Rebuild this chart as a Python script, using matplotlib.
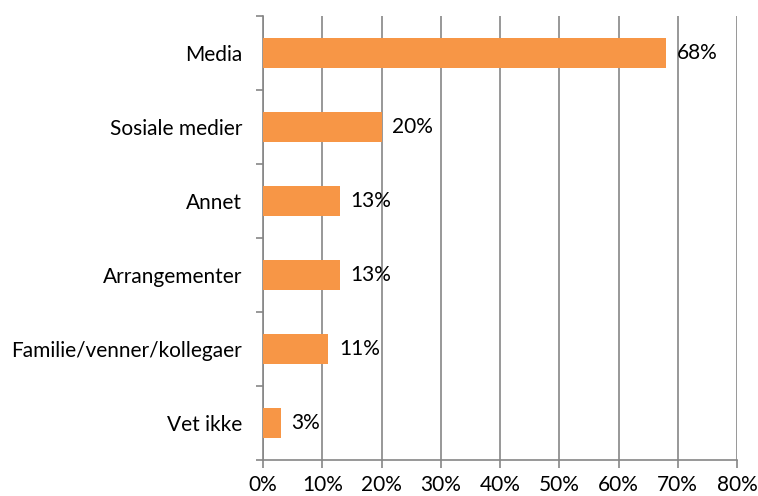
import matplotlib
matplotlib.use('Agg')
import matplotlib.pyplot as plt
from matplotlib.ticker import FuncFormatter, FixedLocator

# categories from top to bottom, values in percent
categories = ["Media", "Sosiale medier", "Annet", "Arrangementer",
              "Familie/venner/kollegaer", "Vet ikke"]
values = [68, 20, 13, 13, 11, 3]

bar_color = "#F79646"
grid_color = "#868686"

plt.rcParams['font.family'] = ['Lato', 'DejaVu Sans']
fs = 15

fig = plt.figure(figsize=(7.58, 4.96), dpi=100)
ax = fig.add_axes([263 / 758, 1 - 460 / 496, (737 - 263) / 758, (460 - 16) / 496])

ypos = list(range(len(categories)))[::-1]
ax.barh(ypos, values, height=0.4, color=bar_color, zorder=3)

for y, v in zip(ypos, values):
    ax.text(v + 1.8, y, f"{v}%", va='center', ha='left', fontsize=fs, color='black')

ax.set_xlim(0, 80)
ax.set_ylim(-0.5, len(categories) - 0.5)
ax.set_xticks(range(0, 81, 10))
ax.xaxis.set_major_formatter(FuncFormatter(lambda x, p: f"{int(x)}%"))
ax.grid(axis='x', color=grid_color, linewidth=1.2, zorder=0)

ax.set_yticks(ypos)
ax.set_yticklabels(categories)
ax.yaxis.set_minor_locator(FixedLocator([i - 0.5 for i in range(len(categories) + 1)]))
ax.tick_params(axis='y', which='major', length=0, pad=15, labelsize=fs)
ax.tick_params(axis='y', which='minor', length=5, width=1.2, color=grid_color, direction='out')
ax.tick_params(axis='x', length=6, width=1.2, color=grid_color, direction='out', pad=5, labelsize=fs)

for s in ['top', 'right']:
    ax.spines[s].set_visible(False)
for s in ['left', 'bottom']:
    ax.spines[s].set_color(grid_color)
    ax.spines[s].set_linewidth(1.2)

fig.savefig("out.png", dpi=100)
